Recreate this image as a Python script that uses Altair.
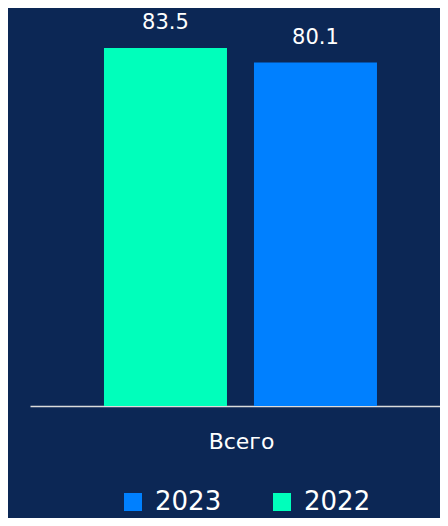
import altair as alt
import pandas as pd

years = ["2022", "2023"]
values = [83.5, 80.1]
category = "Всего"
legend_order = ["2023", "2022"]
colors = ["#0080ff", "#00ffbb"]

df = pd.DataFrame({"year": years, "value": values})

FONT = "DejaVu Sans"
BG = "#0c2755"

base = alt.Chart(df).encode(
    x=alt.X(
        "year:N",
        sort=years,
        scale=alt.Scale(paddingInner=0.18, paddingOuter=0.4567, align=0.54),
        axis=alt.Axis(
            labels=False,
            ticks=False,
            domain=True,
            domainColor="#dcdcdc",
            domainWidth=1.5,
            title=category,
            titleFont=FONT,
            titleFontSize=22,
            titleFontWeight="normal",
            titleColor="#ffffff",
            titleBaseline="alphabetic",
            titleY=42,
            titleX=211,
        ),
    ),
    y=alt.Y(
        "value:Q",
        scale=alt.Scale(domain=[0, 92.84], nice=False),
        axis=None,
    ),
)

bars = base.mark_bar().encode(
    color=alt.Color(
        "year:N",
        scale=alt.Scale(domain=legend_order, range=colors),
        sort=legend_order,
        title=None,
        legend=alt.Legend(
            orient="none",
            legendX=90,
            legendY=481,
            padding=0,
            direction="horizontal",
            symbolType="square",
            symbolSize=324,
            symbolStrokeWidth=0,
            symbolOpacity=1,
            labelFont=FONT,
            labelFontSize=26,
            labelColor="#ffffff",
            labelOffset=9,
            columnPadding=47,
        ),
    )
)

labels = base.mark_text(
    font=FONT,
    fontSize=21,
    color="#ffffff",
    baseline="alphabetic",
    dy=-19,
).encode(text=alt.Text("value:Q", format=".1f"))

chart = (
    alt.layer(bars, labels)
    .properties(
        width=410,
        height=398,
        background=BG,
        autosize=alt.AutoSizeParams(type="none"),
        padding={"left": 22, "top": 0, "right": 0, "bottom": 112},
    )
    .configure_view(stroke=None)
)

chart.save("out.html", embed_options={"renderer": "svg", "actions": False})
